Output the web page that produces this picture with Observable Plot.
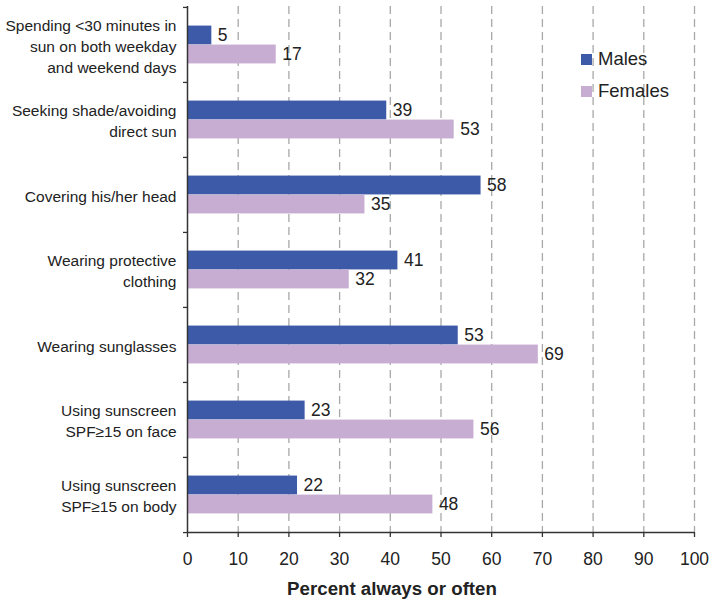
<!DOCTYPE html>
<html><head><meta charset="utf-8">
<script src="https://cdn.jsdelivr.net/npm/d3@7"></script>
<script src="https://cdn.jsdelivr.net/npm/@observablehq/plot@0.6"></script>
<style>
body{margin:0;background:#fff;font-family:"Liberation Sans",Arial,sans-serif;}
#wrap{position:relative;width:711px;height:603px;}
#legend{position:absolute;left:581px;top:43px;font-size:18.5px;color:#222;}
.item{display:flex;align-items:center;height:32px;}
.sw{width:11px;height:11px;margin-right:6px;}
</style></head><body><div id="wrap"></div>
<script>
const categories = [
  "Spending <30 minutes in\nsun on both weekday\nand weekend days",
  "Seeking shade/avoiding\ndirect sun",
  "Covering his/her head",
  "Wearing protective\nclothing",
  "Wearing sunglasses",
  "Using sunscreen\nSPF≥15 on face",
  "Using sunscreen\nSPF≥15 on body"
];
const series = ["Males", "Females"];
const males = [4.8, 39.3, 57.9, 41.5, 53.4, 23.2, 21.7];
const females = [17.5, 52.6, 35.0, 31.9, 69.2, 56.5, 48.4];
const malesLabels = [5, 39, 58, 41, 53, 23, 22];
const femalesLabels = [17, 53, 35, 32, 69, 56, 48];
const xTicks = [0, 10, 20, 30, 40, 50, 60, 70, 80, 90, 100];
const xTitle = "Percent always or often";
const colors = ["#3d5aa9", "#c8add3"];

const font = "'Liberation Sans', Arial, sans-serif";

const maleRows = categories.map((c, i) => ({category: c, series: series[0], value: males[i], label: malesLabels[i]}));
const femaleRows = categories.map((c, i) => ({category: c, series: series[1], value: females[i], label: femalesLabels[i]}));

const W = 711, H = 603, mL = 187, mR = 17, mT = 6, mB = 71;
const step = (H - mT - mB) / categories.length;
const barH = 19;

const chart = Plot.plot({
  width: W, height: H,
  marginLeft: mL, marginRight: mR, marginTop: mT, marginBottom: mB,
  style: {fontFamily: font, fontSize: "16px", color: "#222", background: "#fff"},
  x: {domain: [0, 100], ticks: xTicks, label: null},
  y: {domain: categories, padding: 0, label: null},
  color: {domain: series, range: colors},
  marks: [
    Plot.ruleX(xTicks.slice(1), {stroke: "#a8a8a8", strokeWidth: 1.3, strokeDasharray: "8,5"}),
    Plot.barX(maleRows, {x: "value", y: "category", fill: "series", insetTop: step / 2 - barH, insetBottom: step / 2}),
    Plot.barX(femaleRows, {x: "value", y: "category", fill: "series", insetTop: step / 2, insetBottom: step / 2 - barH}),
    Plot.text(maleRows, {x: "value", y: "category", text: "label", dx: 6, dy: -barH / 2, textAnchor: "start", fontSize: 17.5, fill: "#222"}),
    Plot.text(femaleRows, {x: "value", y: "category", text: "label", dx: 6, dy: barH / 2, textAnchor: "start", fontSize: 17.5, fill: "#222"}),
    Plot.axisX({ticks: xTicks, tickSize: 5, tickPadding: 15, fontSize: 17.5, label: null, stroke: "#333", strokeWidth: 1.3}),
    Plot.axisY({tickSize: 0, tickPadding: 11, fontSize: 15.5, lineHeight: 1.36, label: null}),
    Plot.ruleX([0], {stroke: "#333", strokeWidth: 1.5}),
    Plot.ruleY([categories[categories.length - 1]], {dy: step / 2, stroke: "#333", strokeWidth: 1.5}),
    Plot.ruleY(categories, {x1: 0, x2: 0, insetLeft: -4, dy: -step / 2, stroke: "#333", strokeWidth: 1.3}),
    Plot.ruleY([categories[categories.length - 1]], {x1: 0, x2: 0, insetLeft: -4, dy: step / 2, stroke: "#333", strokeWidth: 1.3}),
    Plot.text([xTitle], {frameAnchor: "bottom", dy: 62, dx: -49, fontWeight: "bold", fontSize: 18.7, fill: "#222"})
  ]
});

const wrap = document.getElementById("wrap");
wrap.appendChild(chart);
const legend = document.createElement("div");
legend.id = "legend";
series.forEach((s, i) => {
  const item = document.createElement("div");
  item.className = "item";
  const sw = document.createElement("div");
  sw.className = "sw";
  sw.style.background = chart.scale("color").apply(s);
  const t = document.createElement("span");
  t.textContent = s;
  item.appendChild(sw);
  item.appendChild(t);
  legend.appendChild(item);
});
wrap.appendChild(legend);
</script>
</body></html>
